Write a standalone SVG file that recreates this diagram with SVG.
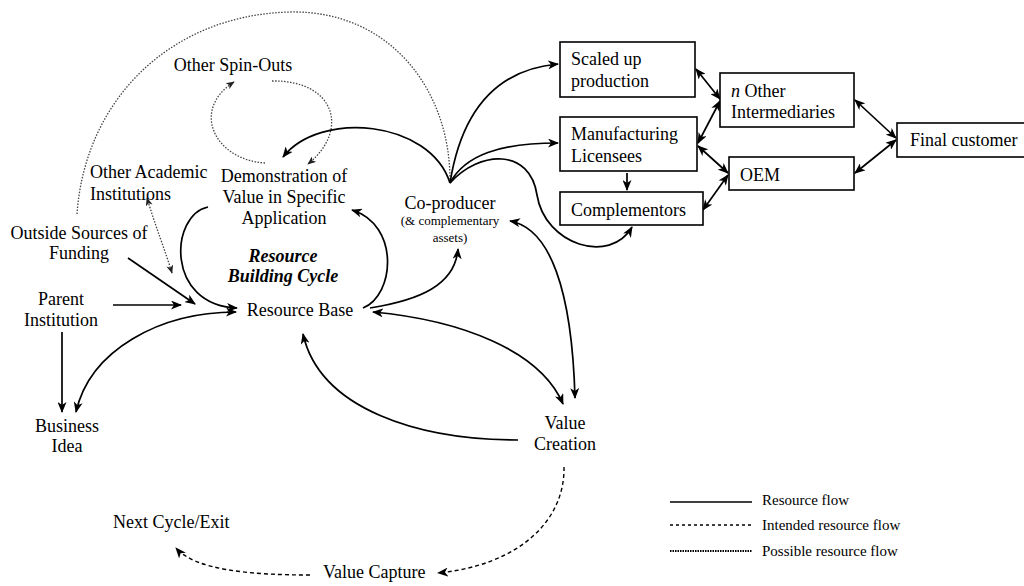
<svg xmlns="http://www.w3.org/2000/svg" width="1024" height="586" viewBox="0 0 1024 586">
  <style>
    text { font-family: "Liberation Serif", "Times New Roman", serif; font-size: 18px; fill: #000; }
    .mid { text-anchor: middle; }
    .small { font-size: 13px; }
    .legend { font-size: 15px; }
    .cycle { font-style: italic; font-weight: bold; }
    .box { fill: #fff; stroke: #000; stroke-width: 1.6; }
    .flow { fill: none; stroke: #000; stroke-width: 1.7; }
    .intended { fill: none; stroke: #000; stroke-width: 1.4; stroke-dasharray: 4 3; }
    .possible { fill: none; stroke: #444; stroke-width: 1.3; stroke-dasharray: 1.5 1.5; }
  </style>
  <defs>
    <marker id="arrow" viewBox="0 0 11 9" markerWidth="11" markerHeight="9" refX="10" refY="4.5" orient="auto-start-reverse" markerUnits="userSpaceOnUse">
      <path d="M0,0 L11,4.5 L0,9 L3,4.5 z" fill="#000"/>
    </marker>
    <marker id="arrowSmall" viewBox="0 0 11 9" markerWidth="9" markerHeight="7" refX="10" refY="4.5" orient="auto-start-reverse" markerUnits="userSpaceOnUse">
      <path d="M0,0 L11,4.5 L0,9 L3,4.5 z" fill="#222"/>
    </marker>
  </defs>

  <!-- connectors -->
  <g id="connectors">
    <!-- possible resource flows (dotted) -->
    <path class="possible" d="M77,214 C85,100 170,15 290,12 C390,10 450,90 450,180"/>
    <path class="possible" d="M265,163 C215,160 190,110 234,82" marker-end="url(#arrowSmall)"/>
    <path class="possible" d="M272,81 C335,80 350,130 308,164" marker-end="url(#arrowSmall)"/>
    <path class="possible" d="M147,198 C155,225 165,250 172,273" marker-start="url(#arrowSmall)" marker-end="url(#arrowSmall)"/>

    <!-- resource flows (solid) -->
    <path class="flow" d="M128,258 L195,304" marker-end="url(#arrow)"/>
    <path class="flow" d="M113,305 L181,305" marker-end="url(#arrow)"/>
    <path class="flow" d="M62,332 L62,412" marker-end="url(#arrow)"/>
    <path class="flow" d="M236,312 C160,312 90,350 76,412" marker-start="url(#arrow)" marker-end="url(#arrow)"/>
    <path class="flow" d="M208,207 C170,215 165,305 237,308" marker-end="url(#arrow)"/>
    <path class="flow" d="M363,308 C395,295 400,225 352,210" marker-end="url(#arrow)"/>
    <path class="flow" d="M370,308 C420,300 455,285 458,249" marker-end="url(#arrow)"/>
    <path class="flow" d="M373,312 C460,320 540,350 563,404" marker-start="url(#arrow)" marker-end="url(#arrow)"/>
    <path class="flow" d="M510,221 C550,228 572,290 575,398" marker-start="url(#arrow)" marker-end="url(#arrow)"/>
    <path class="flow" d="M518,440 C420,440 320,410 303,334" marker-end="url(#arrow)"/>
    <path class="flow" d="M450,183 C430,120 320,110 283,157" marker-end="url(#arrow)"/>
    <path class="flow" d="M450,183 C460,120 490,70 558,64" marker-end="url(#arrow)"/>
    <path class="flow" d="M450,183 C465,155 500,143 558,143" marker-end="url(#arrow)"/>
    <path class="flow" d="M450,183 C480,150 530,148 537,195 C545,245 610,265 632,227" marker-end="url(#arrow)"/>

    <!-- value chain links -->
    <path class="flow" d="M627,173 L627,190" marker-end="url(#arrow)"/>
    <path class="flow" d="M696,69 L720,99" marker-start="url(#arrow)" marker-end="url(#arrow)"/>
    <path class="flow" d="M720,101 L698,143" marker-start="url(#arrow)" marker-end="url(#arrow)"/>
    <path class="flow" d="M698,146 L728,173" marker-start="url(#arrow)" marker-end="url(#arrow)"/>
    <path class="flow" d="M728,175 L703,210" marker-start="url(#arrow)" marker-end="url(#arrow)"/>
    <path class="flow" d="M855,100 L896,138" marker-start="url(#arrow)" marker-end="url(#arrow)"/>
    <path class="flow" d="M855,173 L896,140" marker-start="url(#arrow)" marker-end="url(#arrow)"/>

    <!-- intended resource flows (dashed) -->
    <path class="intended" d="M564,467 C565,520 520,565 438,573" marker-end="url(#arrow)"/>
    <path class="intended" d="M310,575 C250,575 195,570 176,548" marker-end="url(#arrow)"/>
  </g>

  <!-- nodes -->
  <g id="other-spin-outs"><text x="233" y="71" class="mid">Other Spin-Outs</text></g>
  <g id="demonstration">
    <text x="284" y="182" class="mid">Demonstration of</text>
    <text x="284" y="203" class="mid">Value in Specific</text>
    <text x="284" y="224" class="mid">Application</text>
  </g>
  <g id="other-academic">
    <text x="90" y="178">Other Academic</text>
    <text x="90" y="200">Institutions</text>
  </g>
  <g id="outside-funding">
    <text x="79" y="239" class="mid">Outside Sources of</text>
    <text x="79" y="259" class="mid">Funding</text>
  </g>
  <g id="parent">
    <text x="61" y="305" class="mid">Parent</text>
    <text x="61" y="326" class="mid">Institution</text>
  </g>
  <g id="cycle-label">
    <text x="283" y="262" class="mid cycle">Resource</text>
    <text x="283" y="282" class="mid cycle">Building Cycle</text>
  </g>
  <g id="resource-base"><text x="300" y="316" class="mid">Resource Base</text></g>
  <g id="co-producer">
    <text x="450" y="209" class="mid">Co-producer</text>
    <text x="450" y="225" class="mid small">(&amp; complementary</text>
    <text x="450" y="242" class="mid small">assets)</text>
  </g>
  <g id="business-idea">
    <text x="67" y="432" class="mid">Business</text>
    <text x="67" y="452" class="mid">Idea</text>
  </g>
  <g id="value-creation">
    <text x="565" y="429" class="mid">Value</text>
    <text x="565" y="450" class="mid">Creation</text>
  </g>
  <g id="next-cycle"><text x="113" y="528">Next Cycle/Exit</text></g>
  <g id="value-capture"><text x="323" y="578">Value Capture</text></g>

  <g id="scaled-up">
    <rect class="box" x="560" y="42" width="135" height="55"/>
    <text x="571" y="65">Scaled up</text>
    <text x="571" y="87">production</text>
  </g>
  <g id="manufacturing">
    <rect class="box" x="560" y="117" width="137" height="54"/>
    <text x="571" y="140">Manufacturing</text>
    <text x="571" y="162">Licensees</text>
  </g>
  <g id="complementors">
    <rect class="box" x="560" y="192" width="143" height="33"/>
    <text x="571" y="216">Complementors</text>
  </g>
  <g id="intermediaries">
    <rect class="box" x="720" y="73" width="134" height="54"/>
    <text x="731" y="97"><tspan font-style="italic">n</tspan> Other</text>
    <text x="731" y="118">Intermediaries</text>
  </g>
  <g id="oem">
    <rect class="box" x="729" y="157" width="125" height="33"/>
    <text x="740" y="181">OEM</text>
  </g>
  <g id="final-customer">
    <rect class="box" x="897" y="123" width="130" height="34"/>
    <text x="910" y="146">Final customer</text>
  </g>

  <!-- legend -->
  <g id="legend">
    <line x1="670" y1="502" x2="752" y2="502" stroke="#000" stroke-width="1.3"/>
    <line x1="670" y1="525" x2="752" y2="525" stroke="#000" stroke-width="1.3" stroke-dasharray="3 3"/>
    <line x1="670" y1="551" x2="752" y2="551" stroke="#000" stroke-width="1.8" stroke-dasharray="1.5 1"/>
    <text x="762" y="505" class="legend">Resource flow</text>
    <text x="762" y="530" class="legend">Intended resource flow</text>
    <text x="762" y="556" class="legend">Possible resource flow</text>
  </g>
</svg>
